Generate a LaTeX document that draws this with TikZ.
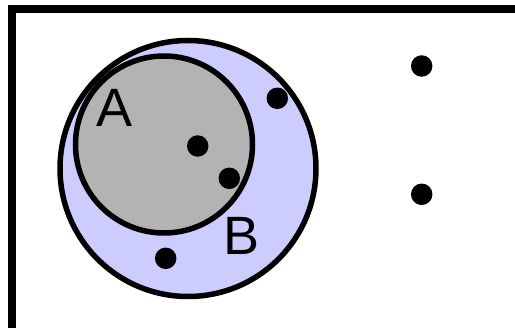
\documentclass[tikz,border=0pt]{standalone}
\usepackage{fontspec}
\setmainfont{Liberation Sans}
\definecolor{lav}{RGB}{204,204,255}
\definecolor{grayA}{RGB}{179,179,179}
\begin{document}
\begin{tikzpicture}[x=1pt,y=-1pt,
  setcircle/.style={circle,draw=black,line width=5.5pt,inner sep=0pt},
  elem/.style={circle,fill=black,inner sep=0pt,minimum size=21.5pt},
  setlabel/.style={font=\fontsize{54}{54}\selectfont,inner sep=0pt}]
\useasboundingbox (0,0) rectangle (515,328);
\draw[line width=7.5pt] (12,9) rectangle (540,340);
\node[setcircle,fill=lav,minimum size=256pt] (B) at (188,168.5) {};
\node[setcircle,fill=grayA,minimum size=177pt] (A) at (164,144.5) {};
\node[setlabel] (la) at (115,108) {A};
\node[setlabel] (lb) at (242,236) {B};
\node[elem] (d1) at (197.7,146) {};
\node[elem] (d2) at (229.3,178.3) {};
\node[elem] (d3) at (277.3,98.3) {};
\node[elem] (d4) at (165.7,258.3) {};
\node[elem] (d5) at (421.7,66) {};
\node[elem] (d6) at (421.7,194.3) {};
\end{tikzpicture}
\end{document}
